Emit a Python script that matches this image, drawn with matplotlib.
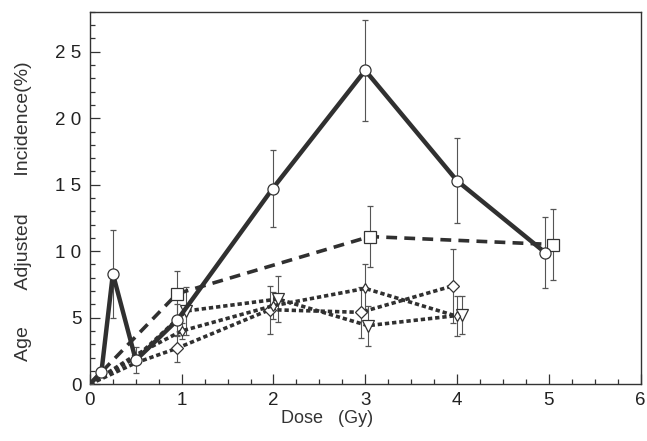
import matplotlib
matplotlib.use("Agg")
import matplotlib.pyplot as plt
from matplotlib.ticker import MultipleLocator, FixedLocator

# Data
circ_x = [0.0, 0.125, 0.25, 0.5, 0.95, 1.99, 3.0, 4.0, 4.96]
circ_y = [0.0, 0.9, 8.3, 1.8, 4.8, 14.7, 23.6, 15.3, 9.9]
circ_e = [0.0, 0.0, 3.3, 1.0, 1.2, 2.9, 3.8, 3.2, 2.7]

sq_x = [0.0, 0.95, 3.05, 5.05]
sq_y = [0.0, 6.8, 11.1, 10.5]
sq_e = [0.0, 1.7, 2.3, 2.7]

tri_x = [0.0, 0.5, 1.05, 2.05, 3.03, 4.05]
tri_y = [0.0, 2.0, 5.5, 6.4, 4.4, 5.2]
tri_e = [0.0, 0.0, 1.8, 1.7, 1.5, 1.4]

dia_x = [0.0, 0.5, 0.95, 1.96, 2.95, 3.96]
dia_y = [0.0, 1.6, 2.7, 5.6, 5.4, 7.4]
dia_e = [0.0, 0.0, 1.0, 1.8, 1.9, 2.8]

sm_x = [0.0, 0.5, 1.0, 2.0, 3.0, 4.0]
sm_y = [0.0, 2.2, 4.0, 5.9, 7.2, 5.1]
sm_e = [0.0, 0.0, 0.6, 1.0, 1.8, 1.5]

xticks = [0, 1, 2, 3, 4, 5, 6]
xticklabels = ["0", "1", "2", "3", "4", "5", "6"]
yticks = [0, 5, 10, 15, 20, 25]
yticklabels = ["0", "5", "1 0", "1 5", "2 0", "2 5"]

plt.rcParams['font.family'] = ['Liberation Sans', 'DejaVu Sans']

fig = plt.figure(figsize=(6.47, 4.41), dpi=100)
ax = fig.add_axes([0.139, 0.129, 0.851, 0.844])

lc = '#303030'
eb = dict(ecolor='#555555', elinewidth=0.8, capsize=2.5, capthick=0.8)

ax.errorbar(sq_x, sq_y, yerr=sq_e, color=lc, lw=2.6, ls=(0, (3, 2)),
            marker='s', ms=8, mfc='white', mec='#333333', mew=0.9,
            markevery=[1, 2, 3], **eb, zorder=3)
ax.errorbar(tri_x, tri_y, yerr=tri_e, color=lc, lw=2.6, ls=(0, (1.2, 0.8)),
            marker='v', ms=8, mfc='white', mec='#333333', mew=0.9,
            markevery=[2, 3, 4, 5], **eb, zorder=3)
ax.errorbar(dia_x, dia_y, yerr=dia_e, color=lc, lw=2.6, ls=(0, (1.2, 0.8)),
            marker='D', ms=6, mfc='white', mec='#333333', mew=0.9,
            markevery=[2, 3, 4, 5], **eb, zorder=3)
ax.errorbar(sm_x, sm_y, yerr=sm_e, color=lc, lw=2.6, ls=(0, (1.2, 0.8)),
            marker='d', ms=5, mfc='white', mec='#333333', mew=0.9,
            markevery=[2, 3, 4, 5], **eb, zorder=3)
ax.errorbar(circ_x, circ_y, yerr=circ_e, color=lc, lw=3.2, ls='-',
            marker='o', ms=8, mfc='white', mec='#333333', mew=0.9,
            markevery=list(range(1, len(circ_x))), **eb, zorder=4)

ax.set_xlim(0, 6)
ax.set_ylim(0, 28)
ax.xaxis.set_major_locator(FixedLocator(xticks))
ax.set_xticklabels(xticklabels)
ax.yaxis.set_major_locator(FixedLocator(yticks))
ax.set_yticklabels(yticklabels)
ax.xaxis.set_minor_locator(MultipleLocator(0.25))
ax.yaxis.set_minor_locator(MultipleLocator(1))
ax.tick_params(which='both', direction='in', color='#333333', width=0.9)
ax.tick_params(which='major', length=7, labelsize=13.5, pad=6, labelcolor='#222222')
ax.tick_params(which='minor', length=3.5)
for s in ax.spines.values():
    s.set_color('#333333')
    s.set_linewidth(1.0)

ax.set_xlabel("Dose   (Gy)", fontsize=13, color='#333333')
ax.xaxis.set_label_coords(0.43, -0.07)
ax.set_ylabel("Age       Adjusted       Incidence(%)", fontsize=14, color='#333333')
ax.yaxis.set_label_coords(-0.105, 0.465)

fig.savefig("out.png", dpi=100)
